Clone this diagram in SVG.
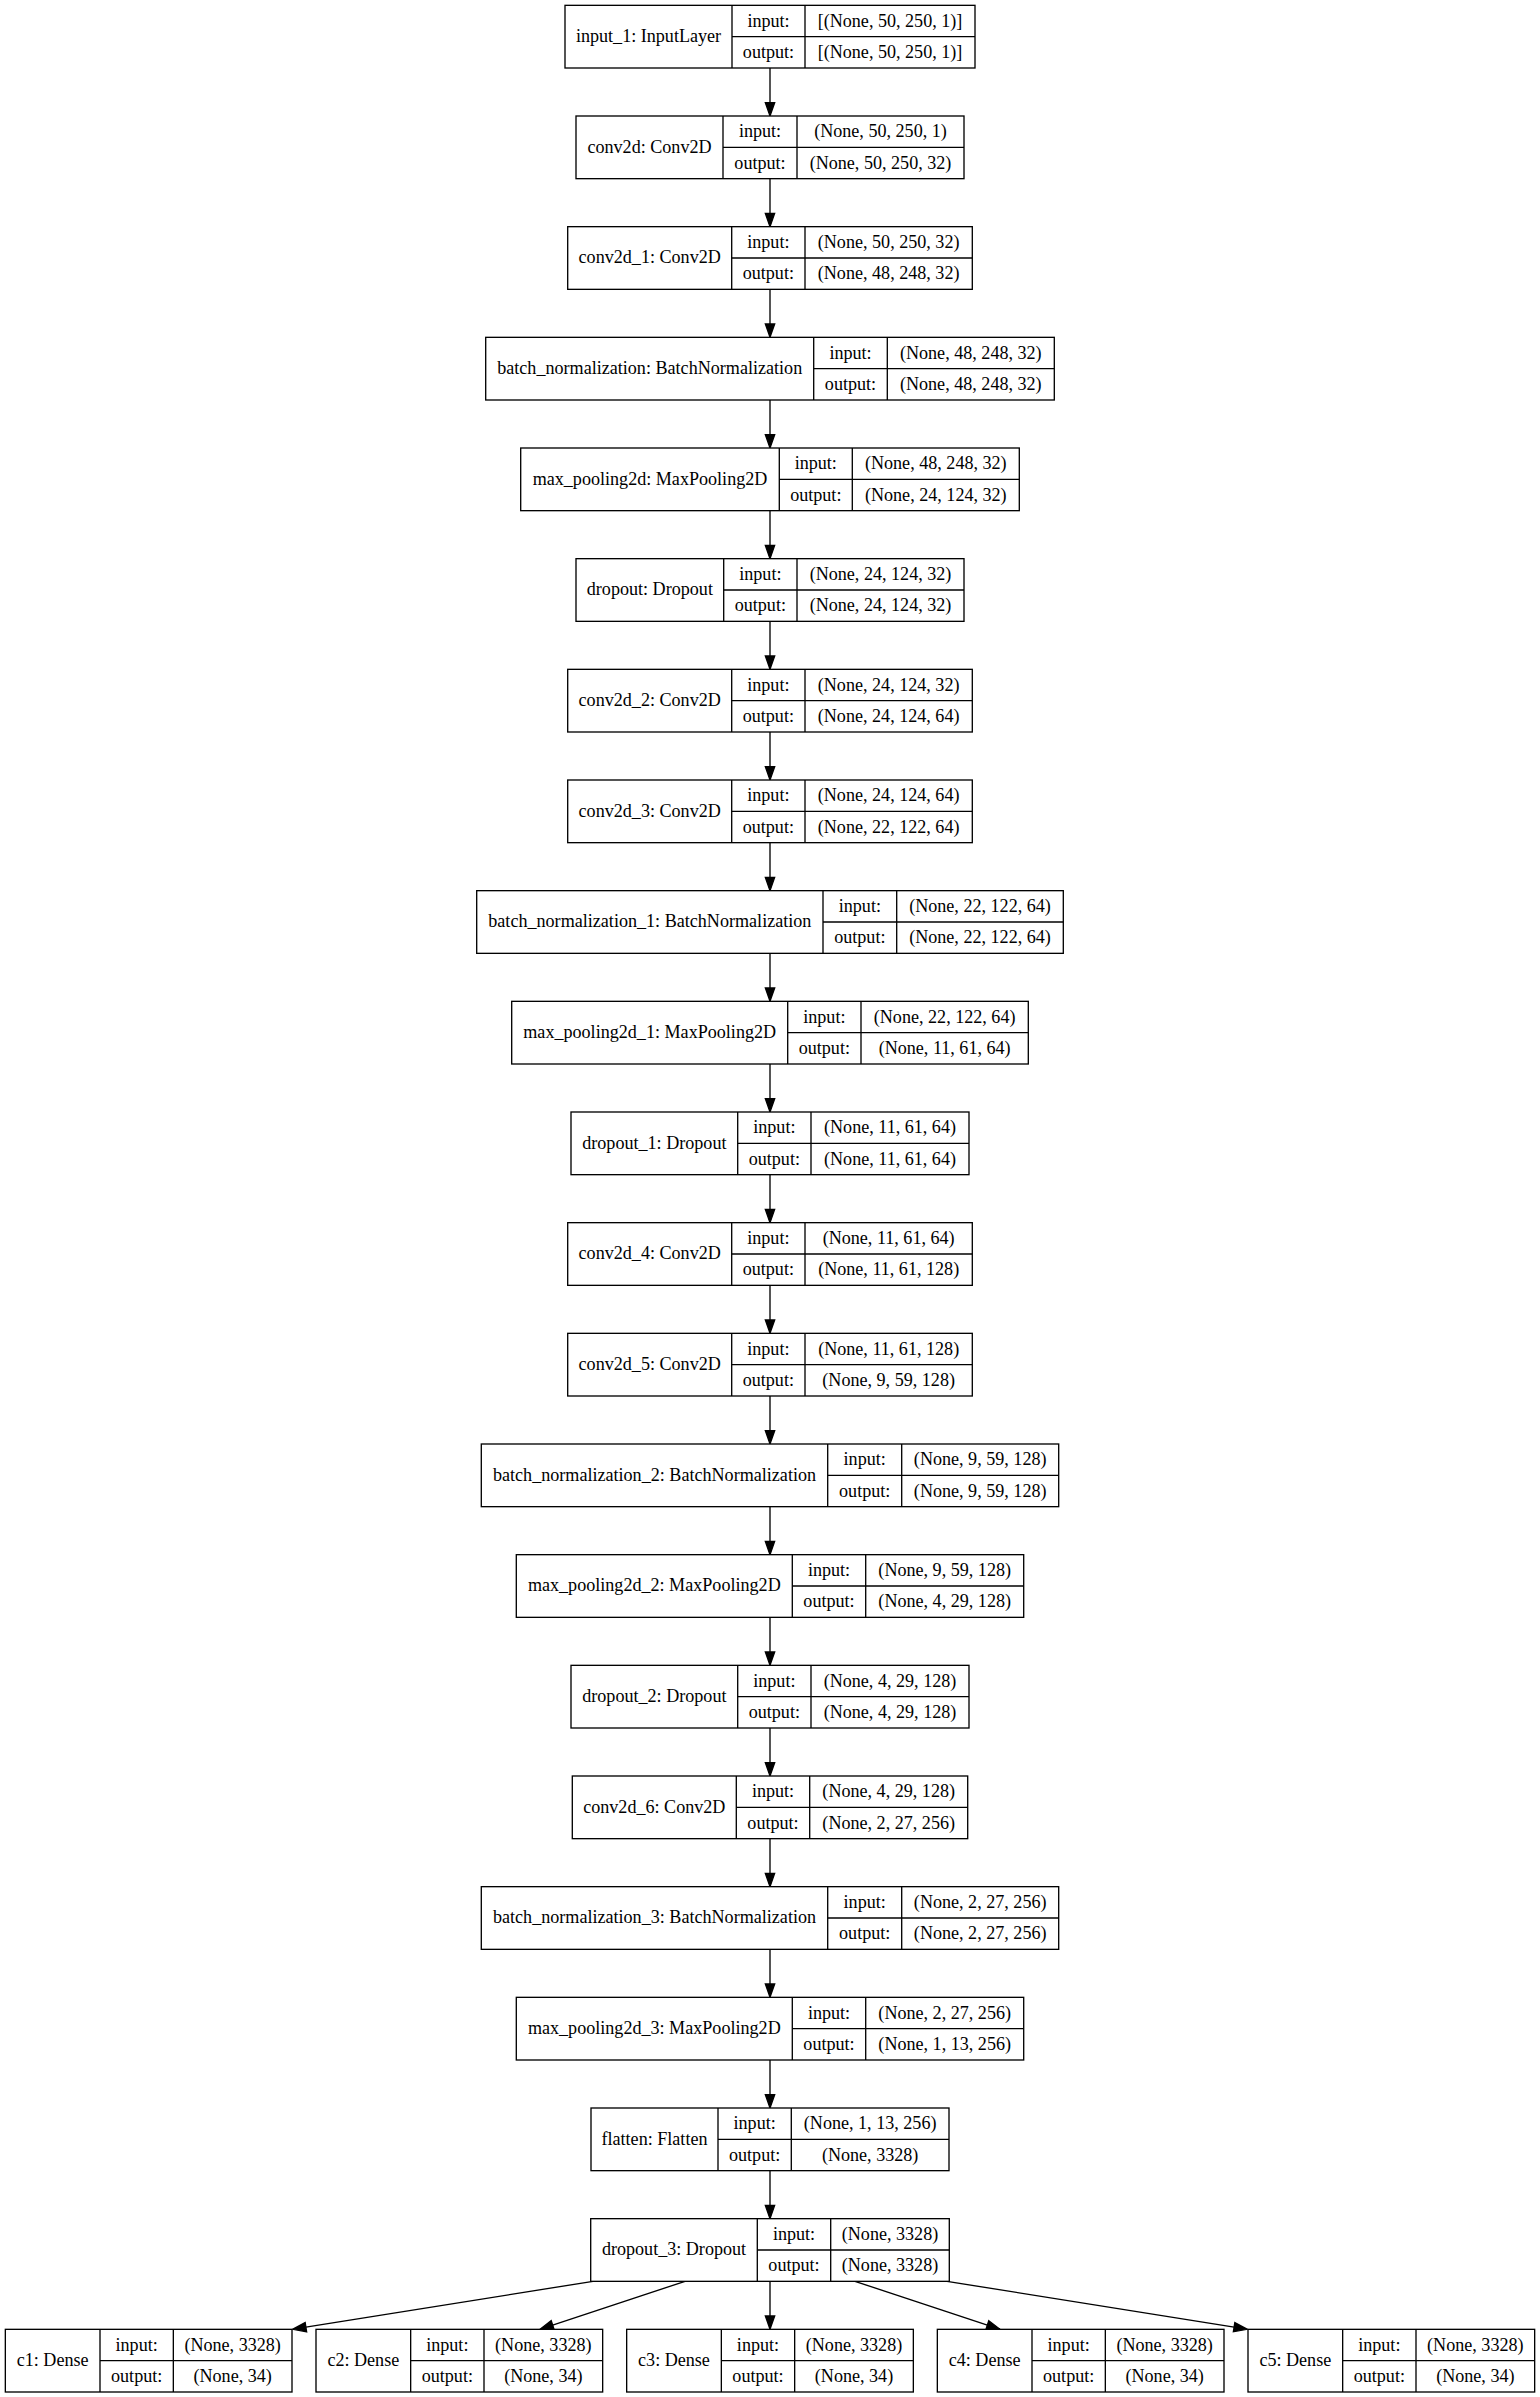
<svg xmlns="http://www.w3.org/2000/svg" width="1540" height="2397" viewBox="0 0 1540 2397">
<style>
.bg{fill:#ffffff}
.box{fill:#ffffff;stroke:#000000;stroke-width:1.33}
.ln{stroke:#000000;stroke-width:1.33;fill:none}
.e{stroke:#000000;stroke-width:1.33;fill:none;marker-end:url(#arr)}
text{font-family:"Liberation Serif","Times New Roman",serif;font-size:18.1px;text-anchor:middle;fill:#000000}
</style>
<defs>
<marker id="arr" markerUnits="userSpaceOnUse" markerWidth="16" markerHeight="12" refX="0" refY="4.67" orient="auto" style="overflow:visible">
<path d="M0,0 L13.33,4.67 L0,9.33 Z" fill="#000000" stroke="#000000" stroke-width="1.33"/>
</marker>
</defs>
<rect class="bg" x="0" y="0" width="1540" height="2397"/>

<g id="connectors">
<line class="e" x1="770" y1="68" x2="770" y2="102.67"/>
<line class="e" x1="770" y1="178.67" x2="770" y2="213.33"/>
<line class="e" x1="770" y1="289.33" x2="770" y2="324"/>
<line class="e" x1="770" y1="400" x2="770" y2="434.67"/>
<line class="e" x1="770" y1="510.67" x2="770" y2="545.33"/>
<line class="e" x1="770" y1="621.33" x2="770" y2="656"/>
<line class="e" x1="770" y1="732" x2="770" y2="766.67"/>
<line class="e" x1="770" y1="842.67" x2="770" y2="877.33"/>
<line class="e" x1="770" y1="953.33" x2="770" y2="988"/>
<line class="e" x1="770" y1="1064" x2="770" y2="1098.67"/>
<line class="e" x1="770" y1="1174.67" x2="770" y2="1209.33"/>
<line class="e" x1="770" y1="1285.33" x2="770" y2="1320"/>
<line class="e" x1="770" y1="1396" x2="770" y2="1430.67"/>
<line class="e" x1="770" y1="1506.67" x2="770" y2="1541.33"/>
<line class="e" x1="770" y1="1617.33" x2="770" y2="1652"/>
<line class="e" x1="770" y1="1728" x2="770" y2="1762.67"/>
<line class="e" x1="770" y1="1838.67" x2="770" y2="1873.33"/>
<line class="e" x1="770" y1="1949.33" x2="770" y2="1984"/>
<line class="e" x1="770" y1="2060" x2="770" y2="2094.67"/>
<line class="e" x1="770" y1="2170.67" x2="770" y2="2205.33"/>
<line class="e" x1="593" y1="2281.33" x2="305.9" y2="2327.2"/>
<line class="e" x1="685" y1="2281.33" x2="552.66" y2="2325.1"/>
<line class="e" x1="770" y1="2281.33" x2="770" y2="2316"/>
<line class="e" x1="855" y1="2281.33" x2="987.34" y2="2325.1"/>
<line class="e" x1="947" y1="2281.33" x2="1234.1" y2="2327.2"/>
</g>

<g id="input_1" transform="translate(0,5.33)">
<rect class="box" x="565" y="0" width="410" height="62.67"/>
<line class="ln" x1="732" y1="0" x2="732" y2="62.67"/><line class="ln" x1="805" y1="0" x2="805" y2="62.67"/><line class="ln" x1="732" y1="31.33" x2="975" y2="31.33"/>
<text x="648.5" y="36.8">input_1: InputLayer</text><text x="768.5" y="21.2">input:</text><text x="768.5" y="52.5">output:</text><text x="890" y="21.2">[(None, 50, 250, 1)]</text><text x="890" y="52.5">[(None, 50, 250, 1)]</text>
</g>

<g id="conv2d" transform="translate(0,116)">
<rect class="box" x="576" y="0" width="388" height="62.67"/>
<line class="ln" x1="723" y1="0" x2="723" y2="62.67"/><line class="ln" x1="797" y1="0" x2="797" y2="62.67"/><line class="ln" x1="723" y1="31.33" x2="964" y2="31.33"/>
<text x="649.5" y="36.8">conv2d: Conv2D</text><text x="760" y="21.2">input:</text><text x="760" y="52.5">output:</text><text x="880.5" y="21.2">(None, 50, 250, 1)</text><text x="880.5" y="52.5">(None, 50, 250, 32)</text>
</g>

<g id="conv2d_1" transform="translate(0,226.67)">
<rect class="box" x="567.7" y="0" width="404.6" height="62.67"/>
<line class="ln" x1="731.7" y1="0" x2="731.7" y2="62.67"/><line class="ln" x1="805" y1="0" x2="805" y2="62.67"/><line class="ln" x1="731.7" y1="31.33" x2="972.3" y2="31.33"/>
<text x="649.7" y="36.8">conv2d_1: Conv2D</text><text x="768.35" y="21.2">input:</text><text x="768.35" y="52.5">output:</text><text x="888.65" y="21.2">(None, 50, 250, 32)</text><text x="888.65" y="52.5">(None, 48, 248, 32)</text>
</g>

<g id="batch_normalization" transform="translate(0,337.33)">
<rect class="box" x="485.7" y="0" width="568.6" height="62.67"/>
<line class="ln" x1="813.7" y1="0" x2="813.7" y2="62.67"/><line class="ln" x1="887.3" y1="0" x2="887.3" y2="62.67"/><line class="ln" x1="813.7" y1="31.33" x2="1054.3" y2="31.33"/>
<text x="649.7" y="36.8">batch_normalization: BatchNormalization</text><text x="850.5" y="21.2">input:</text><text x="850.5" y="52.5">output:</text><text x="970.8" y="21.2">(None, 48, 248, 32)</text><text x="970.8" y="52.5">(None, 48, 248, 32)</text>
</g>

<g id="max_pooling2d" transform="translate(0,448)">
<rect class="box" x="520.7" y="0" width="498.6" height="62.67"/>
<line class="ln" x1="779.3" y1="0" x2="779.3" y2="62.67"/><line class="ln" x1="852.3" y1="0" x2="852.3" y2="62.67"/><line class="ln" x1="779.3" y1="31.33" x2="1019.3" y2="31.33"/>
<text x="650" y="36.8">max_pooling2d: MaxPooling2D</text><text x="815.8" y="21.2">input:</text><text x="815.8" y="52.5">output:</text><text x="935.8" y="21.2">(None, 48, 248, 32)</text><text x="935.8" y="52.5">(None, 24, 124, 32)</text>
</g>

<g id="dropout" transform="translate(0,558.67)">
<rect class="box" x="576" y="0" width="388" height="62.67"/>
<line class="ln" x1="723.7" y1="0" x2="723.7" y2="62.67"/><line class="ln" x1="797" y1="0" x2="797" y2="62.67"/><line class="ln" x1="723.7" y1="31.33" x2="964" y2="31.33"/>
<text x="649.85" y="36.8">dropout: Dropout</text><text x="760.35" y="21.2">input:</text><text x="760.35" y="52.5">output:</text><text x="880.5" y="21.2">(None, 24, 124, 32)</text><text x="880.5" y="52.5">(None, 24, 124, 32)</text>
</g>

<g id="conv2d_2" transform="translate(0,669.33)">
<rect class="box" x="567.7" y="0" width="404.6" height="62.67"/>
<line class="ln" x1="731.7" y1="0" x2="731.7" y2="62.67"/><line class="ln" x1="805" y1="0" x2="805" y2="62.67"/><line class="ln" x1="731.7" y1="31.33" x2="972.3" y2="31.33"/>
<text x="649.7" y="36.8">conv2d_2: Conv2D</text><text x="768.35" y="21.2">input:</text><text x="768.35" y="52.5">output:</text><text x="888.65" y="21.2">(None, 24, 124, 32)</text><text x="888.65" y="52.5">(None, 24, 124, 64)</text>
</g>

<g id="conv2d_3" transform="translate(0,780)">
<rect class="box" x="567.7" y="0" width="404.6" height="62.67"/>
<line class="ln" x1="731.7" y1="0" x2="731.7" y2="62.67"/><line class="ln" x1="805" y1="0" x2="805" y2="62.67"/><line class="ln" x1="731.7" y1="31.33" x2="972.3" y2="31.33"/>
<text x="649.7" y="36.8">conv2d_3: Conv2D</text><text x="768.35" y="21.2">input:</text><text x="768.35" y="52.5">output:</text><text x="888.65" y="21.2">(None, 24, 124, 64)</text><text x="888.65" y="52.5">(None, 22, 122, 64)</text>
</g>

<g id="batch_normalization_1" transform="translate(0,890.67)">
<rect class="box" x="476.7" y="0" width="586.6" height="62.67"/>
<line class="ln" x1="823" y1="0" x2="823" y2="62.67"/><line class="ln" x1="896.7" y1="0" x2="896.7" y2="62.67"/><line class="ln" x1="823" y1="31.33" x2="1063.3" y2="31.33"/>
<text x="649.85" y="36.8">batch_normalization_1: BatchNormalization</text><text x="859.85" y="21.2">input:</text><text x="859.85" y="52.5">output:</text><text x="980" y="21.2">(None, 22, 122, 64)</text><text x="980" y="52.5">(None, 22, 122, 64)</text>
</g>

<g id="max_pooling2d_1" transform="translate(0,1001.33)">
<rect class="box" x="511.7" y="0" width="516.6" height="62.67"/>
<line class="ln" x1="787.7" y1="0" x2="787.7" y2="62.67"/><line class="ln" x1="861" y1="0" x2="861" y2="62.67"/><line class="ln" x1="787.7" y1="31.33" x2="1028.3" y2="31.33"/>
<text x="649.7" y="36.8">max_pooling2d_1: MaxPooling2D</text><text x="824.35" y="21.2">input:</text><text x="824.35" y="52.5">output:</text><text x="944.65" y="21.2">(None, 22, 122, 64)</text><text x="944.65" y="52.5">(None, 11, 61, 64)</text>
</g>

<g id="dropout_1" transform="translate(0,1112)">
<rect class="box" x="571" y="0" width="398" height="62.67"/>
<line class="ln" x1="737.7" y1="0" x2="737.7" y2="62.67"/><line class="ln" x1="811" y1="0" x2="811" y2="62.67"/><line class="ln" x1="737.7" y1="31.33" x2="969" y2="31.33"/>
<text x="654.35" y="36.8">dropout_1: Dropout</text><text x="774.35" y="21.2">input:</text><text x="774.35" y="52.5">output:</text><text x="890" y="21.2">(None, 11, 61, 64)</text><text x="890" y="52.5">(None, 11, 61, 64)</text>
</g>

<g id="conv2d_4" transform="translate(0,1222.67)">
<rect class="box" x="567.7" y="0" width="404.6" height="62.67"/>
<line class="ln" x1="731.7" y1="0" x2="731.7" y2="62.67"/><line class="ln" x1="805" y1="0" x2="805" y2="62.67"/><line class="ln" x1="731.7" y1="31.33" x2="972.3" y2="31.33"/>
<text x="649.7" y="36.8">conv2d_4: Conv2D</text><text x="768.35" y="21.2">input:</text><text x="768.35" y="52.5">output:</text><text x="888.65" y="21.2">(None, 11, 61, 64)</text><text x="888.65" y="52.5">(None, 11, 61, 128)</text>
</g>

<g id="conv2d_5" transform="translate(0,1333.33)">
<rect class="box" x="567.7" y="0" width="404.6" height="62.67"/>
<line class="ln" x1="731.7" y1="0" x2="731.7" y2="62.67"/><line class="ln" x1="805" y1="0" x2="805" y2="62.67"/><line class="ln" x1="731.7" y1="31.33" x2="972.3" y2="31.33"/>
<text x="649.7" y="36.8">conv2d_5: Conv2D</text><text x="768.35" y="21.2">input:</text><text x="768.35" y="52.5">output:</text><text x="888.65" y="21.2">(None, 11, 61, 128)</text><text x="888.65" y="52.5">(None, 9, 59, 128)</text>
</g>

<g id="batch_normalization_2" transform="translate(0,1444)">
<rect class="box" x="481.3" y="0" width="577.4" height="62.67"/>
<line class="ln" x1="827.7" y1="0" x2="827.7" y2="62.67"/><line class="ln" x1="901.7" y1="0" x2="901.7" y2="62.67"/><line class="ln" x1="827.7" y1="31.33" x2="1058.7" y2="31.33"/>
<text x="654.5" y="36.8">batch_normalization_2: BatchNormalization</text><text x="864.7" y="21.2">input:</text><text x="864.7" y="52.5">output:</text><text x="980.2" y="21.2">(None, 9, 59, 128)</text><text x="980.2" y="52.5">(None, 9, 59, 128)</text>
</g>

<g id="max_pooling2d_2" transform="translate(0,1554.67)">
<rect class="box" x="516.3" y="0" width="507.4" height="62.67"/>
<line class="ln" x1="792.3" y1="0" x2="792.3" y2="62.67"/><line class="ln" x1="865.7" y1="0" x2="865.7" y2="62.67"/><line class="ln" x1="792.3" y1="31.33" x2="1023.7" y2="31.33"/>
<text x="654.3" y="36.8">max_pooling2d_2: MaxPooling2D</text><text x="829" y="21.2">input:</text><text x="829" y="52.5">output:</text><text x="944.7" y="21.2">(None, 9, 59, 128)</text><text x="944.7" y="52.5">(None, 4, 29, 128)</text>
</g>

<g id="dropout_2" transform="translate(0,1665.33)">
<rect class="box" x="571" y="0" width="398" height="62.67"/>
<line class="ln" x1="737.7" y1="0" x2="737.7" y2="62.67"/><line class="ln" x1="811" y1="0" x2="811" y2="62.67"/><line class="ln" x1="737.7" y1="31.33" x2="969" y2="31.33"/>
<text x="654.35" y="36.8">dropout_2: Dropout</text><text x="774.35" y="21.2">input:</text><text x="774.35" y="52.5">output:</text><text x="890" y="21.2">(None, 4, 29, 128)</text><text x="890" y="52.5">(None, 4, 29, 128)</text>
</g>

<g id="conv2d_6" transform="translate(0,1776)">
<rect class="box" x="572.3" y="0" width="395.4" height="62.67"/>
<line class="ln" x1="736.3" y1="0" x2="736.3" y2="62.67"/><line class="ln" x1="809.7" y1="0" x2="809.7" y2="62.67"/><line class="ln" x1="736.3" y1="31.33" x2="967.7" y2="31.33"/>
<text x="654.3" y="36.8">conv2d_6: Conv2D</text><text x="773" y="21.2">input:</text><text x="773" y="52.5">output:</text><text x="888.7" y="21.2">(None, 4, 29, 128)</text><text x="888.7" y="52.5">(None, 2, 27, 256)</text>
</g>

<g id="batch_normalization_3" transform="translate(0,1886.67)">
<rect class="box" x="481.3" y="0" width="577.4" height="62.67"/>
<line class="ln" x1="827.7" y1="0" x2="827.7" y2="62.67"/><line class="ln" x1="901.7" y1="0" x2="901.7" y2="62.67"/><line class="ln" x1="827.7" y1="31.33" x2="1058.7" y2="31.33"/>
<text x="654.5" y="36.8">batch_normalization_3: BatchNormalization</text><text x="864.7" y="21.2">input:</text><text x="864.7" y="52.5">output:</text><text x="980.2" y="21.2">(None, 2, 27, 256)</text><text x="980.2" y="52.5">(None, 2, 27, 256)</text>
</g>

<g id="max_pooling2d_3" transform="translate(0,1997.33)">
<rect class="box" x="516.3" y="0" width="507.4" height="62.67"/>
<line class="ln" x1="792.3" y1="0" x2="792.3" y2="62.67"/><line class="ln" x1="865.7" y1="0" x2="865.7" y2="62.67"/><line class="ln" x1="792.3" y1="31.33" x2="1023.7" y2="31.33"/>
<text x="654.3" y="36.8">max_pooling2d_3: MaxPooling2D</text><text x="829" y="21.2">input:</text><text x="829" y="52.5">output:</text><text x="944.7" y="21.2">(None, 2, 27, 256)</text><text x="944.7" y="52.5">(None, 1, 13, 256)</text>
</g>

<g id="flatten" transform="translate(0,2108)">
<rect class="box" x="591" y="0" width="358" height="62.67"/>
<line class="ln" x1="718" y1="0" x2="718" y2="62.67"/><line class="ln" x1="791.3" y1="0" x2="791.3" y2="62.67"/><line class="ln" x1="718" y1="31.33" x2="949" y2="31.33"/>
<text x="654.5" y="36.8">flatten: Flatten</text><text x="754.65" y="21.2">input:</text><text x="754.65" y="52.5">output:</text><text x="870.15" y="21.2">(None, 1, 13, 256)</text><text x="870.15" y="52.5">(None, 3328)</text>
</g>

<g id="dropout_3" transform="translate(0,2218.67)">
<rect class="box" x="590.7" y="0" width="358.6" height="62.67"/>
<line class="ln" x1="757.3" y1="0" x2="757.3" y2="62.67"/><line class="ln" x1="830.7" y1="0" x2="830.7" y2="62.67"/><line class="ln" x1="757.3" y1="31.33" x2="949.3" y2="31.33"/>
<text x="674" y="36.8">dropout_3: Dropout</text><text x="794" y="21.2">input:</text><text x="794" y="52.5">output:</text><text x="890" y="21.2">(None, 3328)</text><text x="890" y="52.5">(None, 3328)</text>
</g>

<g id="c1" transform="translate(5.33,2329.33)">
<rect class="box" x="0" y="0" width="286.67" height="62.67"/>
<line class="ln" x1="94.67" y1="0" x2="94.67" y2="62.67"/><line class="ln" x1="168" y1="0" x2="168" y2="62.67"/><line class="ln" x1="94.67" y1="31.33" x2="286.67" y2="31.33"/>
<text x="47.33" y="36.8">c1: Dense</text><text x="131.33" y="21.2">input:</text><text x="131.33" y="52.5">output:</text><text x="227.33" y="21.2">(None, 3328)</text><text x="227.33" y="52.5">(None, 34)</text>
</g>

<g id="c2" transform="translate(316,2329.33)">
<rect class="box" x="0" y="0" width="286.67" height="62.67"/>
<line class="ln" x1="94.67" y1="0" x2="94.67" y2="62.67"/><line class="ln" x1="168" y1="0" x2="168" y2="62.67"/><line class="ln" x1="94.67" y1="31.33" x2="286.67" y2="31.33"/>
<text x="47.33" y="36.8">c2: Dense</text><text x="131.33" y="21.2">input:</text><text x="131.33" y="52.5">output:</text><text x="227.33" y="21.2">(None, 3328)</text><text x="227.33" y="52.5">(None, 34)</text>
</g>

<g id="c3" transform="translate(626.67,2329.33)">
<rect class="box" x="0" y="0" width="286.67" height="62.67"/>
<line class="ln" x1="94.67" y1="0" x2="94.67" y2="62.67"/><line class="ln" x1="168" y1="0" x2="168" y2="62.67"/><line class="ln" x1="94.67" y1="31.33" x2="286.67" y2="31.33"/>
<text x="47.33" y="36.8">c3: Dense</text><text x="131.33" y="21.2">input:</text><text x="131.33" y="52.5">output:</text><text x="227.33" y="21.2">(None, 3328)</text><text x="227.33" y="52.5">(None, 34)</text>
</g>

<g id="c4" transform="translate(937.33,2329.33)">
<rect class="box" x="0" y="0" width="286.67" height="62.67"/>
<line class="ln" x1="94.67" y1="0" x2="94.67" y2="62.67"/><line class="ln" x1="168" y1="0" x2="168" y2="62.67"/><line class="ln" x1="94.67" y1="31.33" x2="286.67" y2="31.33"/>
<text x="47.33" y="36.8">c4: Dense</text><text x="131.33" y="21.2">input:</text><text x="131.33" y="52.5">output:</text><text x="227.33" y="21.2">(None, 3328)</text><text x="227.33" y="52.5">(None, 34)</text>
</g>

<g id="c5" transform="translate(1248,2329.33)">
<rect class="box" x="0" y="0" width="286.67" height="62.67"/>
<line class="ln" x1="94.67" y1="0" x2="94.67" y2="62.67"/><line class="ln" x1="168" y1="0" x2="168" y2="62.67"/><line class="ln" x1="94.67" y1="31.33" x2="286.67" y2="31.33"/>
<text x="47.33" y="36.8">c5: Dense</text><text x="131.33" y="21.2">input:</text><text x="131.33" y="52.5">output:</text><text x="227.33" y="21.2">(None, 3328)</text><text x="227.33" y="52.5">(None, 34)</text>
</g>
</svg>
